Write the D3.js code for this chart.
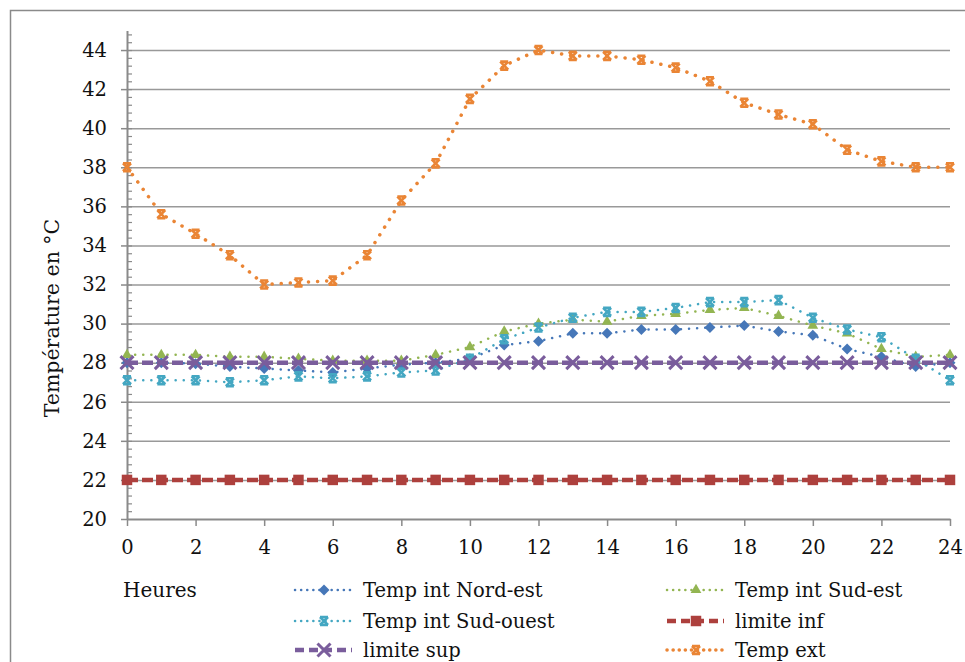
<!DOCTYPE html>
<html>
<head>
<meta charset="utf-8">
<script src="https://cdn.jsdelivr.net/npm/d3@7"></script>
<style>
  body { margin: 0; background: #fff; }
  text { font-family: "DejaVu Serif", serif; fill: #111; }
</style>
</head>
<body>
<div id="chart"></div>
<script>
// hours and series
var hours = [0, 1, 2, 3, 4, 5, 6, 7, 8, 9, 10, 11, 12, 13, 14, 15, 16, 17, 18, 19, 20, 21, 22, 23, 24];
var hourTicks = [0, 2, 4, 6, 8, 10, 12, 14, 16, 18, 20, 22, 24];
var tempTicks = [20, 22, 24, 26, 28, 30, 32, 34, 36, 38, 40, 42, 44];

var nordEst  = [28.0, 28.0, 27.95, 27.8, 27.7, 27.6, 27.5, 27.7, 27.9, 28.0, 28.2, 28.9, 29.1, 29.5, 29.5, 29.7, 29.7, 29.8, 29.9, 29.6, 29.4, 28.7, 28.3, 27.8, 28.0];
var sudEst   = [28.4, 28.4, 28.4, 28.3, 28.3, 28.2, 28.1, 28.1, 28.1, 28.4, 28.8, 29.6, 30.0, 30.2, 30.1, 30.4, 30.5, 30.7, 30.8, 30.4, 29.9, 29.5, 28.7, 28.3, 28.4];
var sudOuest = [27.1, 27.1, 27.1, 27.0, 27.1, 27.3, 27.2, 27.3, 27.5, 27.6, 28.2, 29.2, 29.8, 30.3, 30.6, 30.6, 30.8, 31.1, 31.1, 31.2, 30.3, 29.7, 29.3, 28.2, 27.1];
var limInf   = [22, 22, 22, 22, 22, 22, 22, 22, 22, 22, 22, 22, 22, 22, 22, 22, 22, 22, 22, 22, 22, 22, 22, 22, 22];
var limSup   = [28, 28, 28, 28, 28, 28, 28, 28, 28, 28, 28, 28, 28, 28, 28, 28, 28, 28, 28, 28, 28, 28, 28, 28, 28];
var tempExt  = [38.0, 35.6, 34.6, 33.5, 32.0, 32.1, 32.2, 33.5, 36.3, 38.2, 41.5, 43.2, 44.0, 43.7, 43.7, 43.5, 43.1, 42.4, 41.3, 40.7, 40.2, 38.9, 38.3, 38.0, 38.0];

var series = [
  {name: "Temp int Nord-est",  values: nordEst,  color: "#4677b8", marker: "diamond",  dash: "0.1 8", width: 2.5},
  {name: "Temp int Sud-est",   values: sudEst,   color: "#93b552", marker: "triangle", dash: "0.1 8", width: 2.5},
  {name: "Temp int Sud-ouest", values: sudOuest, color: "#44a7c2", marker: "star",     dash: "0.1 8", width: 2.5},
  {name: "limite inf",         values: limInf,   color: "#ad403d", marker: "square",   dash: "11 4",  width: 4.5},
  {name: "limite sup",         values: limSup,   color: "#7a5d9c", marker: "cross",    dash: "11 4",  width: 4.5},
  {name: "Temp ext",           values: tempExt,  color: "#ea8535", marker: "star",     dash: "0.1 9", width: 3.5}
];

var w = 965, h = 662;
var margin = {left: 127, right: 15, top: 30.5, bottom: 143};
var plotW = w - margin.left - margin.right,
    plotH = h - margin.top - margin.bottom;

var svg = d3.select("#chart").append("svg")
    .attr("width", w)
    .attr("height", h);

// outer chart frame (right and bottom fall off the picture)
svg.append("rect")
    .attr("x", 10.5).attr("y", 10.5)
    .attr("width", w).attr("height", h)
    .attr("fill", "none")
    .attr("stroke", "#8a8a8a")
    .attr("stroke-width", 1.5);

var x = d3.scaleLinear().domain([0, 24]).range([0, plotW]);
var y = d3.scaleLinear().domain([20, 45]).range([plotH, 0]);

var g = svg.append("g")
    .attr("transform", "translate(" + margin.left + "," + margin.top + ")");

// gridlines
g.append("g")
    .attr("class", "grid")
    .call(d3.axisLeft(y).tickValues(tempTicks.slice(1)).tickSize(-plotW).tickFormat(""))
    .call(function(s) {
      s.select(".domain").remove();
      s.selectAll("line").attr("stroke", "#999").attr("stroke-width", 1.5);
    });

// y axis: major ticks outside, minor ticks inside
var minorTicks = d3.range(20.4, 45.01, 0.4);
g.append("g")
    .call(d3.axisRight(y).tickValues(minorTicks).tickSize(5).tickFormat(""))
    .call(function(s) {
      s.select(".domain").remove();
      s.selectAll("line").attr("stroke", "#8a8a8a").attr("stroke-width", 1.2);
    });
g.append("g")
    .call(d3.axisLeft(y).tickValues(tempTicks).tickSize(6).tickSizeOuter(0).tickPadding(14))
    .call(function(s) {
      s.select(".domain").attr("stroke", "#8a8a8a").attr("stroke-width", 2);
      s.selectAll("line").attr("stroke", "#8a8a8a").attr("stroke-width", 1.5);
      s.selectAll("text").attr("font-size", 19.5).attr("font-family", "DejaVu Serif").attr("fill", "#151525");
    });

// x axis
g.append("g")
    .attr("transform", "translate(0," + plotH + ")")
    .call(d3.axisBottom(x).tickValues(hourTicks).tickSize(7).tickSizeOuter(0).tickPadding(14))
    .call(function(s) {
      s.select(".domain").attr("stroke", "#8a8a8a").attr("stroke-width", 2);
      s.selectAll("line").attr("stroke", "#8a8a8a").attr("stroke-width", 1.5);
      s.selectAll("text").attr("font-size", 19.5).attr("font-family", "DejaVu Serif").attr("fill", "#151525");
    });

// axis titles
svg.append("text")
    .attr("transform", "translate(59,318) rotate(-90)")
    .attr("text-anchor", "middle")
    .attr("font-size", 20.5)
    .text("Température en °C");
svg.append("text")
    .attr("x", 123).attr("y", 597)
    .attr("font-size", 20)
    .text("Heures");

// marker shapes
function markerPath(type) {
  if (type === "diamond") return "M0,-5.5L5.5,0L0,5.5L-5.5,0Z";
  if (type === "triangle") return d3.symbol(d3.symbolTriangle, 50)();
  if (type === "square") return d3.symbol(d3.symbolSquare, 110)();
  if (type === "cross") return "M-6.5,-6.5L6.5,6.5M6.5,-6.5L-6.5,6.5";
  return "M-4,-4L4,4M4,-4L-4,4M-4,-4L4,-4M-4,4L4,4"; // star-like
}
function drawMarker(sel, type, color) {
  var p = sel.append("path").attr("d", markerPath(type));
  if (type === "cross" || type === "star") {
    p.attr("fill", "none").attr("stroke", color).attr("stroke-width", type === "cross" ? 3 : 2.6);
  } else {
    p.attr("fill", color);
  }
  return p;
}

var line = d3.line()
    .x(function(d, i) { return x(hours[i]); })
    .y(function(d) { return y(d); });

series.forEach(function(s) {
  var sg = g.append("g");
  sg.append("path")
      .datum(s.values)
      .attr("fill", "none")
      .attr("stroke", s.color)
      .attr("stroke-width", s.width)
      .attr("stroke-dasharray", s.dash)
      .attr("stroke-linecap", s.dash.indexOf("0.1") === 0 ? "round" : "butt")
      .attr("d", line);
  sg.selectAll(".m")
      .data(s.values)
      .enter().append("g")
      .attr("transform", function(d, i) { return "translate(" + x(hours[i]) + "," + y(d) + ")"; })
      .each(function() { drawMarker(d3.select(this), s.marker, s.color); });
});

// legend
var legendPos = [
  {x: 295, y: 590}, {x: 667, y: 590},
  {x: 295, y: 621}, {x: 667, y: 621},
  {x: 295, y: 650}, {x: 667, y: 650}
];
var legend = svg.append("g").attr("class", "legend");
series.forEach(function(s, i) {
  var p = legendPos[i];
  var lg = legend.append("g").attr("transform", "translate(" + p.x + "," + p.y + ")");
  lg.append("line")
      .attr("x1", 0).attr("x2", 57)
      .attr("stroke", s.color)
      .attr("stroke-width", s.width)
      .attr("stroke-dasharray", s.dash.indexOf("0.1") === 0 ? "0.1 6" : "9 5")
      .attr("stroke-linecap", s.dash.indexOf("0.1") === 0 ? "round" : "butt");
  drawMarker(lg.append("g").attr("transform", "translate(29,0)"), s.marker, s.color);
  lg.append("text")
      .attr("x", 68).attr("y", 7)
      .attr("font-size", 19.5)
      .text(s.name);
});
</script>
</body>
</html>
